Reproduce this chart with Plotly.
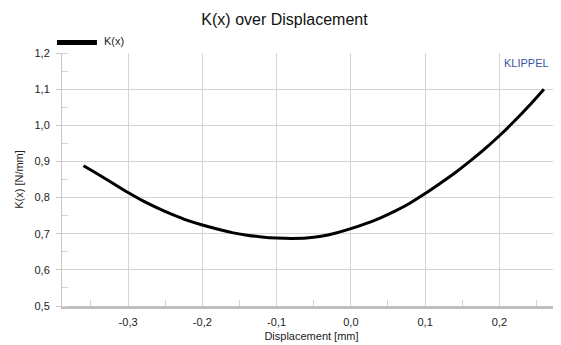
import plotly.graph_objects as go

displacement = [-0.36, -0.34, -0.32, -0.30, -0.28, -0.26, -0.24, -0.22, -0.20, -0.18,
                -0.16, -0.14, -0.12, -0.10, -0.08, -0.06, -0.04, -0.02, 0.00, 0.02,
                0.04, 0.06, 0.08, 0.10, 0.12, 0.14, 0.16, 0.18, 0.20, 0.22, 0.24, 0.26]
stiffness = [0.888, 0.864, 0.839, 0.814, 0.791, 0.771, 0.753, 0.737, 0.724, 0.713,
             0.703, 0.696, 0.691, 0.688, 0.687, 0.688, 0.693, 0.702, 0.714, 0.728,
             0.744, 0.763, 0.785, 0.811, 0.839, 0.868, 0.900, 0.934, 0.971, 1.011, 1.054, 1.100]
series_name = "K(x)"
x_ticks = [-0.3, -0.2, -0.1, 0.0, 0.1, 0.2]
x_tick_labels = ["-0,3", "-0,2", "-0,1", "0,0", "0,1", "0,2"]
y_ticks = [0.5, 0.6, 0.7, 0.8, 0.9, 1.0, 1.1, 1.2]
y_tick_labels = ["0,5", "0,6", "0,7", "0,8", "0,9", "1,0", "1,1", "1,2"]

FONT = "Liberation Sans, Arial, sans-serif"
GRID = "#d4d4d4"
W, H = 553, 337  # page adds an 8px body margin

fig = go.Figure()
fig.add_trace(go.Scatter(x=displacement, y=stiffness, mode="lines", name=series_name,
                         line=dict(color="black", width=3, shape="spline", smoothing=0.6),
                         showlegend=False))

fig.update_layout(
    width=W, height=H,
    margin=dict(l=54, r=0, t=45, b=39),
    paper_bgcolor="white", plot_bgcolor="white",
    font=dict(family=FONT, size=11, color="#222"),
    title=dict(text="K(x) over Displacement", x=0.5, xanchor="center",
               y=1 - 11 / H, yanchor="middle", yref="container",
               font=dict(size=16, color="#111", family=FONT)),
    xaxis=dict(range=[-0.389, 0.283], tickvals=x_ticks, ticktext=x_tick_labels,
               showgrid=True, gridcolor=GRID, gridwidth=1, zeroline=False,
               showline=True, linecolor="#c0c0c0", linewidth=3,
               ticks="outside", ticklen=4, tickcolor="rgba(0,0,0,0)",
               minor=dict(dtick=0.05, tick0=0, ticks="inside", ticklen=6,
                          tickcolor=GRID, showgrid=False),
               title=dict(text="Displacement [mm]", standoff=6, font=dict(size=11))),
    yaxis=dict(range=[0.5, 1.2], tickvals=y_ticks, ticktext=y_tick_labels,
               showgrid=True, gridcolor=GRID, gridwidth=1, zeroline=False,
               showline=True, linecolor="#c8c8c8", linewidth=1,
               ticks="outside", ticklen=5, tickcolor="#c8c8c8", ticklabelstandoff=4,
               minor=dict(dtick=0.05, tick0=0, ticks="inside", ticklen=6,
                          tickcolor=GRID, showgrid=False),
               title=dict(text="K(x) [N/mm]", standoff=8, font=dict(size=11))),
)

# legend swatch and label
fig.add_shape(type="rect", xref="paper", yref="paper",
              x0=-0.01, x1=0.07, y0=1 + 8 / 253, y1=1 + 13 / 253,
              fillcolor="black", line=dict(width=0))
fig.add_annotation(text=series_name, xref="paper", yref="paper",
                   x=0.08, y=1 + 12 / 253, xanchor="left", yanchor="middle",
                   showarrow=False, font=dict(size=11, color="#222", family=FONT))
fig.add_annotation(text="KLIPPEL", xref="paper", yref="paper",
                   x=0.881, y=1 - 10 / 253, xanchor="left", yanchor="middle",
                   showarrow=False, font=dict(size=11, color="#3a55a4", family=FONT))

fig.write_html("out.html")
